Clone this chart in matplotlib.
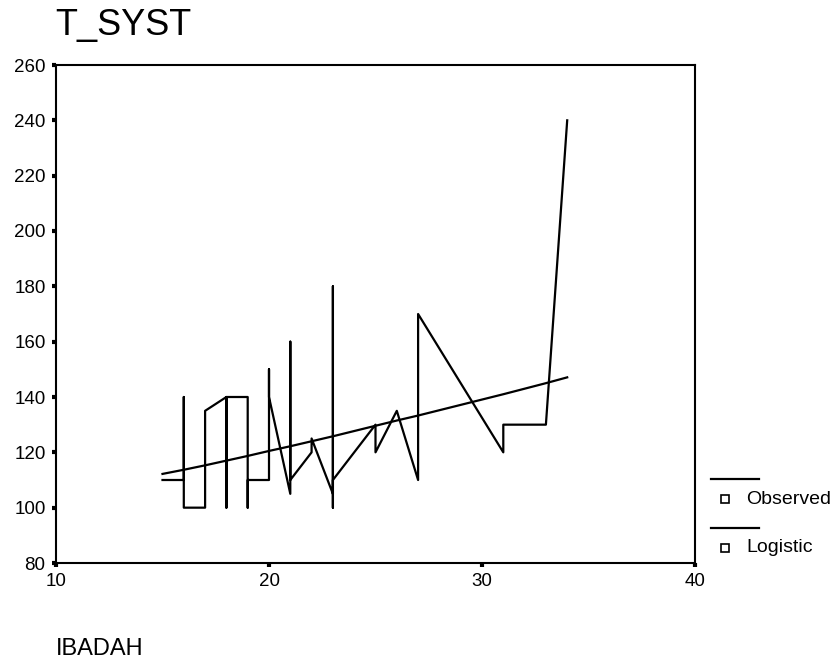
import matplotlib
matplotlib.use("Agg")
import matplotlib.pyplot as plt
from matplotlib.lines import Line2D

plt.rcParams['font.family'] = ['Liberation Sans', 'DejaVu Sans']

# observed values, in the order SPSS joins them (sorted by IBADAH)
obs_x = [15, 16, 16, 16, 17, 17, 18, 18, 18, 19, 19, 19, 20, 20, 20,
         21, 21, 21, 22, 22, 23, 23, 23, 23, 25, 25, 26, 27, 27, 31, 31, 33, 34]
obs_y = [110, 110, 140, 100, 100, 135, 140, 100, 140, 140, 100, 110, 110, 150, 140,
         105, 160, 110, 120, 125, 105, 180, 100, 110, 130, 120, 135, 110, 170, 120, 130, 130, 240]

# logistic fit
fit_x = [15, 16, 17, 18, 19, 20, 21, 22, 23, 25, 26, 27, 31, 33, 34]
fit_y = [112.2, 113.7, 115.3, 117.0, 118.7, 120.5, 122.2, 124.0, 125.8,
         129.6, 131.5, 133.3, 141.0, 145.0, 147.1]

xticks = [10, 20, 30, 40]
yticks = [80, 100, 120, 140, 160, 180, 200, 220, 240, 260]

W, H = 839, 663
fig = plt.figure(figsize=(W / 100, H / 100), dpi=100)
ax = fig.add_axes([56 / W, 1 - 563 / H, 639 / W, 498 / H])

ax.plot(obs_x, obs_y, color='black', lw=1.6)
ax.plot(fit_x, fit_y, color='black', lw=1.6)

ax.set_xlim(10, 40)
ax.set_ylim(80, 260)
ax.set_xticks(xticks)
ax.set_yticks(yticks)
ax.tick_params(direction='out', length=3, width=3, labelsize=13.5, pad=4.5, color='black')
for s in ax.spines.values():
    s.set_linewidth(1.5)


def px(x, y):
    return x / W, 1 - y / H


# title and axis label
fig.text(*px(55, 35), 'T_SYST', fontsize=26, ha='left', va='baseline')
fig.text(*px(56, 655), 'IBADAH', fontsize=17, ha='left', va='baseline')

# legend drawn the SPSS way: line sample above a square + name
for ly, name in [(479, 'Observed'), (528, 'Logistic')]:
    (x0, y0), (x1, _) = px(711, ly), px(759, ly)
    fig.add_artist(Line2D([x0, x1], [y0, y0], color='black', lw=1.6, transform=fig.transFigure))
    mx, my = px(725, ly + 20)
    fig.add_artist(Line2D([mx], [my], marker='s', ms=5.5, mfc='white', mec='black', mew=1.2,
                          linestyle='none', transform=fig.transFigure))
    tx, ty = px(746, ly + 20)
    fig.text(tx, ty, name, fontsize=14, ha='left', va='center')

fig.savefig('out.png', dpi=100)
